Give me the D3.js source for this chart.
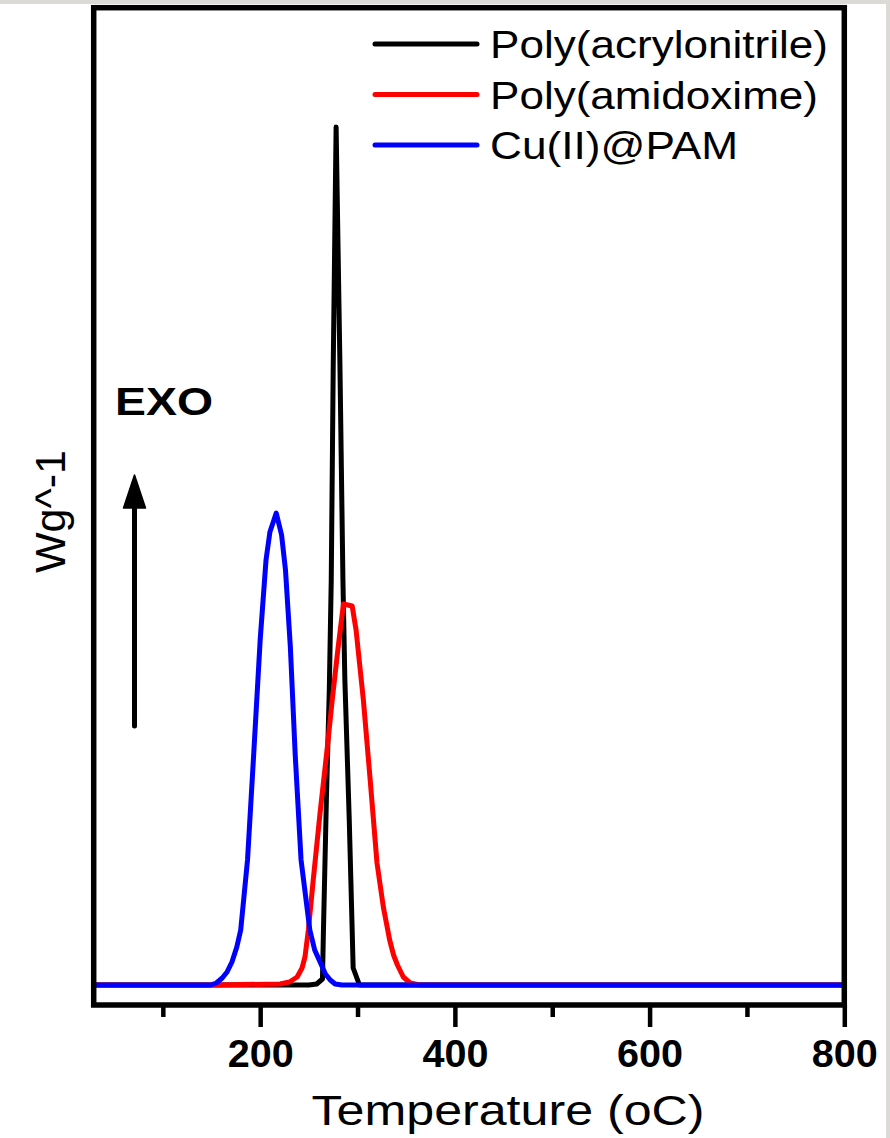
<!DOCTYPE html>
<html>
<head>
<meta charset="utf-8">
<script src="https://cdn.jsdelivr.net/npm/d3@7"></script>
<style>
  html, body { margin: 0; padding: 0; background: #dcdad6; }
  svg { display: block; }
  text { font-family: "Liberation Sans", Arial, sans-serif; }
</style>
</head>
<body>
<svg width="890" height="1138"></svg>
<script>
// DSC traces (temperature in oC, heat flow in arbitrary W/g units)
const tempPAN = [29, 250, 258, 264, 265, 268, 271, 273, 275, 278, 282, 285, 287, 291.5, 294.5, 295.5, 302, 800];
const heatPAN = [0, 0, 0.01, 0.06, 0.55, 1.85, 2.95, 4.05, 6.15, 8.58, 6.15, 4.05, 3.05, 1.65, 0.55, 0.17, 0, 0];

const tempPAMX = [29, 149, 220.5, 230, 238, 243, 246, 249.5, 254.5, 261.5, 269, 274, 280, 285.5, 294.5, 298.5, 306, 313, 320, 326.5, 333, 337, 341, 347, 354, 364, 800];
const heatPAMX = [0, 0, 0.01, 0.03, 0.08, 0.17, 0.28, 0.55, 1.05, 1.72, 2.38, 2.85, 3.37, 3.81, 3.79, 3.55, 2.85, 2.05, 1.22, 0.78, 0.45, 0.3, 0.2, 0.08, 0.02, 0, 0];

const tempCu = [29, 149, 155, 161, 166, 171, 176, 180, 187, 193, 200, 206, 210, 216.5, 222, 226, 231, 236, 242, 251, 256, 262, 267, 272, 277, 284, 800];
const heatCu = [0, 0, 0.02, 0.07, 0.13, 0.23, 0.38, 0.55, 1.25, 2.25, 3.45, 4.25, 4.53, 4.72, 4.50, 4.15, 3.38, 2.30, 1.25, 0.55, 0.35, 0.22, 0.11, 0.05, 0.01, 0, 0];

const seriesNames = ["Poly(acrylonitrile)", "Poly(amidoxime)", "Cu(II)@PAM"];
const seriesColors = ["#000000", "#ff0000", "#0000ff"];
const majorTicks = [200, 400, 600, 800];
const minorTicks = [100, 300, 500, 700];

const svg = d3.select("svg"),
      margin = {top: 7.7, right: 45.7, bottom: 133, left: 93.7},
      width = +svg.attr("width") - margin.left - margin.right,
      height = +svg.attr("height") - margin.top - margin.bottom;

// white page with the thin grey window border at top/right
svg.append("rect").attr("x", 0).attr("y", 4).attr("width", 886).attr("height", 1134).attr("fill", "#fff");

const x = d3.scaleLinear().domain([29, 800]).range([margin.left, margin.left + width]);
const y = d3.scaleLinear().domain([-0.2, 9.773]).range([margin.top + height, margin.top]);

const series = [
  {name: seriesNames[0], color: seriesColors[0], pts: tempPAN.map((t, i) => [t, heatPAN[i]])},
  {name: seriesNames[1], color: seriesColors[1], pts: tempPAMX.map((t, i) => [t, heatPAMX[i]])},
  {name: seriesNames[2], color: seriesColors[2], pts: tempCu.map((t, i) => [t, heatCu[i]])}
];

const line = d3.line().x(d => x(d[0])).y(d => y(d[1]));

svg.append("g")
  .selectAll("path")
  .data(series)
  .join("path")
    .attr("d", d => line(d.pts))
    .attr("fill", "none")
    .attr("stroke", d => d.color)
    .attr("stroke-width", 5)
    .attr("stroke-linejoin", "round");

// bottom axis: major + minor ticks, no domain path
const axisY = margin.top + height;
const xAxis = svg.append("g").attr("transform", `translate(0,${axisY})`);
xAxis.call(d3.axisBottom(x).tickValues(majorTicks).tickSize(22).tickFormat(d3.format("d")))
  .call(g => g.select(".domain").remove())
  .call(g => g.selectAll(".tick line").attr("stroke", "#000").attr("stroke-width", 4.5))
  .call(g => g.selectAll(".tick text")
    .attr("y", 62).attr("dy", 0)
    .attr("fill", "#000")
    .style("font-family", "'Liberation Sans', Arial, sans-serif")
    .style("font-size", "38px")
    .style("font-weight", "bold")
    .attr("textLength", 66)
    .attr("lengthAdjust", "spacingAndGlyphs"));

svg.append("g").attr("transform", `translate(0,${axisY})`)
  .call(d3.axisBottom(x).tickValues(minorTicks).tickSize(12).tickFormat(""))
  .call(g => g.select(".domain").remove())
  .call(g => g.selectAll(".tick line").attr("stroke", "#000").attr("stroke-width", 4.5));

// frame
svg.append("rect")
  .attr("x", margin.left).attr("y", margin.top)
  .attr("width", width).attr("height", height)
  .attr("fill", "none").attr("stroke", "#000").attr("stroke-width", 5.5);

// axis titles
svg.append("text")
  .attr("x", 508).attr("y", 1125)
  .attr("text-anchor", "middle")
  .style("font-size", "43px")
  .attr("textLength", 393).attr("lengthAdjust", "spacingAndGlyphs")
  .text("Temperature (oC)");

svg.append("text")
  .attr("transform", "translate(65,511.5) rotate(-90)")
  .attr("text-anchor", "middle")
  .style("font-size", "43px")
  .attr("textLength", 123).attr("lengthAdjust", "spacingAndGlyphs")
  .text("Wg^-1");

// EXO annotation with arrow
svg.append("text")
  .attr("x", 115).attr("y", 415)
  .style("font-size", "38px").style("font-weight", "bold")
  .attr("textLength", 98).attr("lengthAdjust", "spacingAndGlyphs")
  .text("EXO");

svg.append("line")
  .attr("x1", 134.5).attr("y1", 726).attr("x2", 134.5).attr("y2", 500)
  .attr("stroke", "#000").attr("stroke-width", 5).attr("stroke-linecap", "round");
svg.append("path")
  .attr("d", "M134.5,475 L145.5,508 L123.5,508 Z")
  .attr("fill", "#000").attr("stroke", "#000").attr("stroke-width", 1.5).attr("stroke-linejoin", "round");

// legend
const legendLens = [338, 328, 248];
const legend = svg.append("g").attr("transform", "translate(375,44)");
series.forEach((s, i) => {
  const g = legend.append("g").attr("transform", `translate(0,${i * 50.5})`);
  g.append("line")
    .attr("x1", 0).attr("x2", 102).attr("y1", 0).attr("y2", 0)
    .attr("stroke", s.color).attr("stroke-width", 5).attr("stroke-linecap", "round");
  g.append("text")
    .attr("x", 115).attr("y", 14)
    .style("font-size", "39px")
    .attr("textLength", legendLens[i]).attr("lengthAdjust", "spacingAndGlyphs")
    .text(s.name);
});
</script>
</body>
</html>
